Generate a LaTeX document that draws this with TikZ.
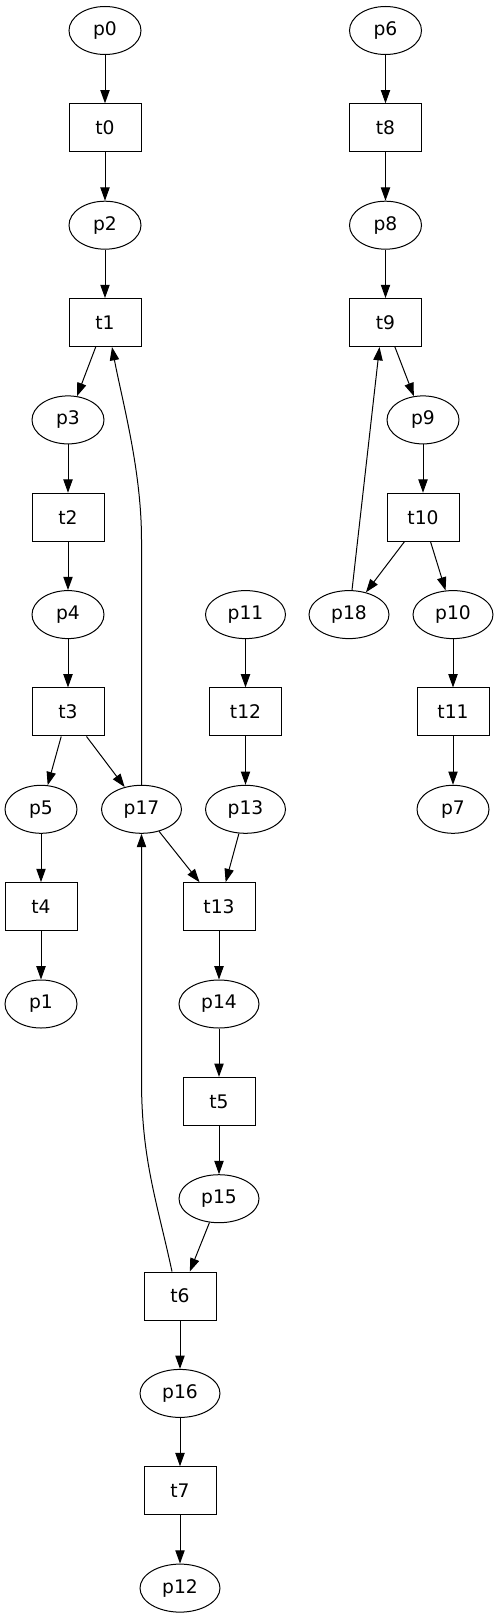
\documentclass[tikz,border=0pt]{standalone}
\usepackage{fontspec}
\setmainfont{DejaVu Sans}
\usetikzlibrary{shapes.geometric,arrows.meta}
\tikzset{
  place/.style={ellipse, draw, line width=1pt, minimum width=72pt, minimum height=48pt, inner sep=0pt, font=\fontsize{18.7}{22}\selectfont},
  wplace/.style={place, minimum width=80pt},
  trans/.style={rectangle, draw, line width=1pt, minimum width=72pt, minimum height=48pt, inner sep=0pt, font=\fontsize{18.7}{22}\selectfont},
  arr/.style={-{Triangle[length=13.3pt,width=9.3pt]}, line width=1pt}
}
\begin{document}
\begin{tikzpicture}[x=1pt,y=-1pt]
\useasboundingbox (0,0) rectangle (499,1619);
% left chain
\node[place] (p0) at (105,30.5) {p0};
\node[trans] (t0) at (105,127.85) {t0};
\node[place] (p2) at (105,225.2) {p2};
\node[trans] (t1) at (105,322.55) {t1};
\node[place] (p3) at (68,419.9) {p3};
\node[trans] (t2) at (68,517.25) {t2};
\node[place] (p4) at (68,614.6) {p4};
\node[trans] (t3) at (68,711.95) {t3};
\node[place] (p5) at (41,809.3) {p5};
\node[wplace] (p17) at (141.5,809.3) {p17};
\node[trans] (t4) at (41,906.65) {t4};
\node[place] (p1) at (41,1004) {p1};
% middle chain
\node[wplace] (p11) at (245.5,614.6) {p11};
\node[trans] (t12) at (245.5,711.95) {t12};
\node[wplace] (p13) at (245.5,809.3) {p13};
\node[trans] (t13) at (219,906.65) {t13};
\node[wplace] (p14) at (219,1004) {p14};
\node[trans] (t5) at (219,1101.35) {t5};
\node[wplace] (p15) at (219,1198.7) {p15};
\node[trans] (t6) at (180,1296.05) {t6};
\node[wplace] (p16) at (180,1393.4) {p16};
\node[trans] (t7) at (180,1490.75) {t7};
\node[wplace] (p12) at (180,1588.1) {p12};
% right chain
\node[place] (p6) at (385.5,30.5) {p6};
\node[trans] (t8) at (385.5,127.85) {t8};
\node[place] (p8) at (385.5,225.2) {p8};
\node[trans] (t9) at (385.5,322.55) {t9};
\node[place] (p9) at (423,419.9) {p9};
\node[trans] (t10) at (423,517.25) {t10};
\node[wplace] (p18) at (349,614.6) {p18};
\node[wplace] (p10) at (453,614.6) {p10};
\node[trans] (t11) at (453,711.95) {t11};
\node[place] (p7) at (453,809.3) {p7};
% edges
\draw[arr] (p0) -- (t0);
\draw[arr] (t0) -- (p2);
\draw[arr] (p2) -- (t1);
\draw[arr] (t1) -- (p3);
\draw[arr] (p3) -- (t2);
\draw[arr] (t2) -- (p4);
\draw[arr] (p4) -- (t3);
\draw[arr] (t3) -- (p5);
\draw[arr] (t3) -- (p17);
\draw[arr] (p5) -- (t4);
\draw[arr] (t4) -- (p1);
\draw[arr] (p17.north) -- ++(0,-245) .. controls +(0,-70) and +(10,53) .. ([xshift=7pt]t1.south);
\draw[arr] (p17) -- (t13);
\draw[arr] (p11) -- (t12);
\draw[arr] (t12) -- (p13);
\draw[arr] (p13) -- (t13);
\draw[arr] (t13) -- (p14);
\draw[arr] (p14) -- (t5);
\draw[arr] (t5) -- (p15);
\draw[arr] (p15) -- (t6);
\draw[arr] ([xshift=-8pt]t6.north) .. controls +(-15,-70) and +(0,80) .. (p17.south |- 0,1080) -- (p17.south);
\draw[arr] (t6) -- (p16);
\draw[arr] (p16) -- (t7);
\draw[arr] (t7) -- (p12);
\draw[arr] (p6) -- (t8);
\draw[arr] (t8) -- (p8);
\draw[arr] (p8) -- (t9);
\draw[arr] (t9) -- (p9);
\draw[arr] (p9) -- (t10);
\draw[arr] (t10) -- (p18);
\draw[arr] (t10) -- (p10);
\draw[arr] (p10) -- (t11);
\draw[arr] (t11) -- (p7);
\draw[arr] ([xshift=3pt]p18.north) -- ([xshift=-6pt]t9.south);
\end{tikzpicture}
\end{document}
